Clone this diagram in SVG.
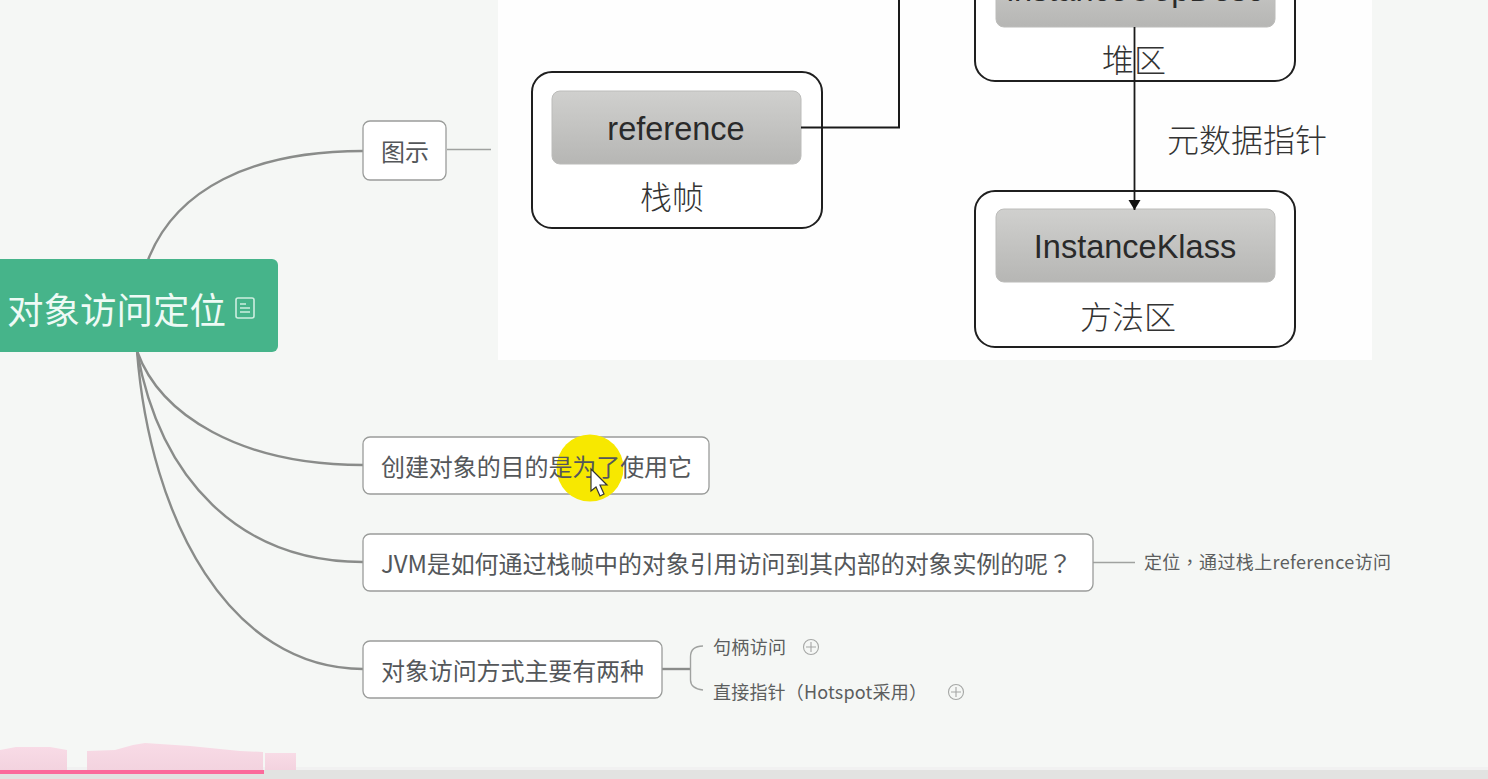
<svg xmlns="http://www.w3.org/2000/svg" width="1488" height="779" viewBox="0 0 1488 779">
<defs>
<linearGradient id="g" x1="0" y1="0" x2="0" y2="1"><stop offset="0" stop-color="#d0d0ce"/><stop offset="1" stop-color="#b6b6b4"/></linearGradient>
<linearGradient id="p" x1="0" y1="0" x2="0" y2="1"><stop offset="0" stop-color="#f8dbe6"/><stop offset="1" stop-color="#f3d3df"/></linearGradient>
<marker id="arr" markerWidth="12" markerHeight="14" refX="11" refY="6" orient="auto" markerUnits="userSpaceOnUse"><path d="M1 0L11 6L1 12Z" fill="#111"/></marker>
</defs>
<style>
text{font-family:"Noto Sans CJK SC","Liberation Sans",sans-serif}
.n{fill:#fff;stroke:#9a9c9a;stroke-width:1.3}
.t{font-size:24px;fill:#54575a}
.s{font-size:18px;fill:#5c5e5e}
.c{fill:none;stroke:#8a8c8a;stroke-width:2.4}
.c2{fill:none;stroke:#a0a2a0;stroke-width:1.4}
.o{fill:#fff;stroke:#1f1f1f;stroke-width:2}
.i{fill:url(#g);stroke:#bcbcba;stroke-width:1}
.l{font-size:32px;font-weight:300;fill:#333;text-anchor:middle}
.e{font-family:"Liberation Sans",sans-serif;font-size:32.500px;fill:#2a2a2a;text-anchor:middle}
.x{fill:none;stroke:#a5a7a5;stroke-width:1.1}
.q{font-family:"Noto Sans CJK TC",sans-serif}
</style>
<rect width="1488" height="779" fill="#f5f7f5"/>
<rect y="770" width="1488" height="9" fill="#e2e3e1"/>
<rect y="767" width="1488" height="3" fill="#f1f1f1"/>
<g id="timeline">
<path d="M0 750L16 747L50 747L67 750V770H0Z" fill="url(#p)"/>
<path d="M87 751L115 750L133 745L145 743L190 746L240 751L263 752V770H87Z" fill="url(#p)"/>
<rect x="265" y="753" width="31" height="17" fill="url(#p)"/>
<rect y="770" width="264" height="4" fill="#fb6a9b"/>
</g>
<g id="figure">
<rect x="498" y="0" width="874" height="360" fill="#fefefe"/>
<rect x="532" y="72" width="290" height="156" rx="20" class="o"/>
<rect x="552" y="91" width="249" height="73" rx="8" class="i"/>
<text x="676" y="140" class="e">reference</text>
<text x="672" y="209" class="l">栈帧</text>
<rect x="975" y="-80" width="320" height="161" rx="20" class="o"/>
<rect x="996" y="-40" width="279" height="67" rx="8" class="i"/>
<text x="1135" y="1" class="e">instanceOopDesc</text>
<text x="1134" y="72" class="l">堆区</text>
<rect x="975" y="191" width="320" height="156" rx="20" class="o"/>
<rect x="996" y="209" width="279" height="73" rx="8" class="i"/>
<text x="1135" y="258" class="e">InstanceKlass</text>
<text x="1128" y="329" class="l">方法区</text>
<text x="1247" y="152" class="l">元数据指针</text>
<path d="M801 127.500H899V0" fill="none" stroke="#1a1a1a" stroke-width="2"/>
<path d="M1134.500 27V210" fill="none" stroke="#1a1a1a" stroke-width="1.800" marker-end="url(#arr)"/>
</g>
<g id="connectors">
<path class="c" d="M148 260C175 190 250 151 363 151"/>
<path class="c" d="M137 351C160 415 240 465 363 465"/>
<path class="c" d="M137 351C160 480 240 562 363 562"/>
<path class="c" d="M137 351C150 520 230 669 363 669"/>
<path class="c2" d="M447 149.500H491"/>
<path class="c2" d="M1093 562.500H1135"/>
<path class="c" d="M662 669H690"/>
<path class="c2" d="M703 646C695 646 690.500 650 690.500 657V680C690.500 686 695 689 703 690"/>
</g>
<g id="root">
<rect x="-12" y="259" width="290" height="93" rx="6" fill="#46b48a"/>
<text x="7" y="324" font-size="36.500" fill="#eefaf5">对象访问定位</text>
<g fill="none" stroke="#cdeee0" stroke-width="1.600"><rect x="236" y="298" width="18" height="20" rx="2"/><path d="M240 304H246M240 308H250M240 312H250"/></g>
</g>
<g id="n1"><rect class="n" x="363" y="121" width="83" height="59" rx="7"/><text class="t" x="381" y="161">图示</text></g>
<g id="n2"><rect class="n" x="363" y="437" width="346" height="57" rx="7"/><circle cx="590" cy="468" r="33.500" fill="#f7e800"/><text class="t" x="381" y="476" textLength="311">创建对象的目的是为了使用它</text><path d="M591 469V491L596 487L600 496L604 494L600 485L607 485Z" fill="#fff" stroke="#333" stroke-width="1.200"/></g>
<g id="n3"><rect class="n" x="363" y="534" width="730" height="57" rx="7"/><text class="t" x="381" y="573" textLength="691">JVM是如何通过栈帧中的对象引用访问到其内部的对象实例的呢<tspan class="q">？</tspan></text></g>
<g id="n4"><rect class="n" x="363" y="641" width="299" height="57" rx="7"/><text class="t" x="381" y="680" textLength="263">对象访问方式主要有两种</text></g>
<g id="n5"><text class="s" x="1144" y="569" textLength="247">定位<tspan class="q">，</tspan>通过栈上reference访问</text></g>
<g id="n6"><text class="s" x="713" y="654" textLength="73">句柄访问</text><circle class="x" cx="811" cy="647" r="7.500"/><path class="x" d="M811 642V652M806 647H816"/></g>
<g id="n7"><text class="s" x="713" y="699" textLength="214">直接指针<tspan class="q">（</tspan>Hotspot采用<tspan class="q">）</tspan></text><circle class="x" cx="956" cy="692" r="7.500"/><path class="x" d="M956 687V697M951 692H961"/></g>
</svg>
